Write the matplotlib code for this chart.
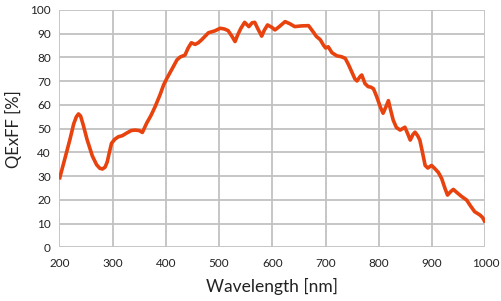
import matplotlib
matplotlib.use("Agg")
from matplotlib import pyplot as plt

# values
wavelength = [200, 210, 220, 227, 232, 236, 240, 245, 252, 262, 270, 276, 281, 286, 290, 294,
              298, 304, 311, 318, 327, 335, 342, 350, 356, 364, 372, 380, 389, 396, 402, 414,
              421, 427, 436, 442, 448, 455, 461, 467, 474, 480, 492, 502, 510, 517, 524, 530,
              535, 541, 548, 556, 562, 567, 573, 580, 585, 591, 599, 605, 612, 624, 633, 642,
              655, 668, 676, 683, 690, 696, 700, 705, 712, 721, 730, 737, 743, 749, 755, 759,
              765, 768, 774, 780, 785, 790, 796, 803, 808, 813, 818, 822, 827, 833, 840, 849,
              854, 859, 864, 868, 873, 877, 882, 887, 892, 899, 905, 912, 918, 924, 929, 935,
              940, 947, 955, 965, 972, 980, 990, 995, 1000]
qe = [28.6, 37.0, 45.5, 52.0, 55.0, 56.2, 55.3, 51.5, 45.5, 38.5, 34.8, 33.3, 33.0, 33.8, 36.0,
      40.0, 43.8, 45.5, 46.6, 47.0, 48.2, 49.2, 49.4, 49.2, 48.4, 52.3, 55.5, 59.3, 64.2, 68.5,
      71.2, 76.1, 79.0, 80.2, 81.0, 84.0, 86.2, 85.5, 86.2, 87.4, 89.0, 90.4, 91.2, 92.3, 92.0,
      91.3, 89.0, 86.7, 89.5, 92.3, 94.8, 93.0, 94.6, 94.8, 92.0, 89.0, 91.5, 93.7, 92.7, 91.6,
      92.8, 95.1, 94.2, 93.0, 93.3, 93.4, 91.0, 88.8, 87.5, 85.2, 84.0, 84.5, 82.0, 80.7, 80.3,
      79.6, 77.0, 74.0, 71.0, 70.1, 72.0, 72.6, 69.0, 67.7, 67.5, 66.8, 63.5, 59.0, 56.5, 59.0,
      61.8, 58.0, 53.6, 50.5, 49.4, 50.6, 48.0, 45.2, 47.5, 48.5, 47.0, 45.2, 40.0, 34.5, 33.4,
      34.5, 33.2, 31.5, 29.0, 25.0, 22.0, 23.5, 24.4, 23.0, 21.5, 19.9, 17.5, 15.0, 13.6, 12.5,
      10.4]

xticks = list(range(200, 1001, 100))
yticks = list(range(0, 101, 10))

plt.rcParams['font.family'] = ['Lato', 'DejaVu Sans']

fig = plt.figure(figsize=(5.01, 3.01), dpi=100)
ax = fig.add_axes([0.1184, 0.1784, 0.8503, 0.7884])

ax.plot(wavelength, qe, color="#e8420e", lw=2.6, solid_joinstyle="round", solid_capstyle="butt",
        zorder=3)

ax.set_xlim(200, 1000)
ax.set_ylim(0, 100)
ax.set_xticks(xticks)
ax.set_yticks(yticks)
ax.grid(True, color="#c2c2c2", lw=1.3)
for s in ax.spines.values():
    s.set_visible(False)
ax.tick_params(length=0, labelsize=8.5, colors="#222222", pad=6)
ax.tick_params(axis="x", pad=8)

ax.set_xlabel("Wavelength [nm]", fontsize=12.5, color="#222222", labelpad=6)
ax.set_ylabel("QExFF [%]", fontsize=12, color="#222222", labelpad=6)

fig.savefig("out.png", dpi=100)
